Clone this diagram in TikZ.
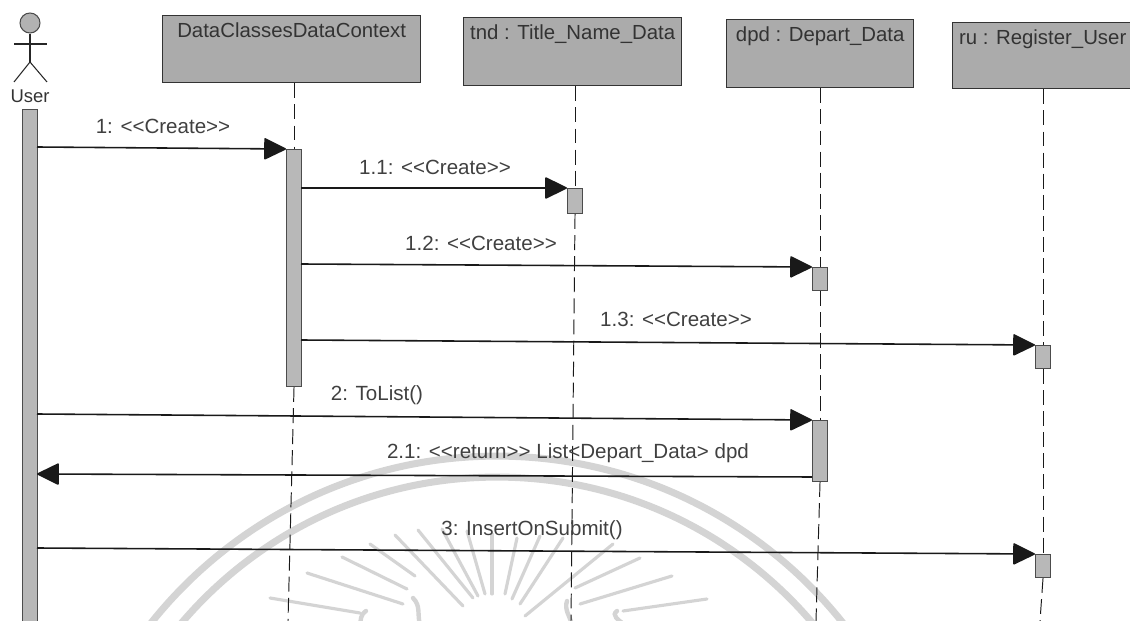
\documentclass[tikz,border=0pt]{standalone}
\usepackage{fontspec}
\setmainfont{Liberation Sans}
\usetikzlibrary{arrows.meta, positioning}

\begin{document}
\begin{tikzpicture}[x=0.02cm,y=-0.02cm,node distance=0.1cm,>={Triangle[round,length=13pt,width=12.5pt]}]
        \tikzstyle{lifehead}=[rectangle,draw=black!80,fill=black!33,line width=0.8pt,anchor=north west,inner sep=0pt]
        \tikzstyle{bar}=[rectangle,draw=black!70,fill=black!28,line width=0.6pt,anchor=north west,inner sep=0pt,minimum width=0.3cm]
        \tikzstyle{headtext}=[font=\fontsize{11.6}{13}\selectfont,text=black!80,inner sep=0pt]
        \tikzstyle{msgtext}=[font=\fontsize{11.7}{13}\selectfont,text=black!75,inner sep=0pt]
        \tikzstyle{msg}=[->,line width=0.9pt,black!90]
        \tikzstyle{lifeline}=[line width=0.55pt,black!90,dash pattern=on 8.5pt off 3.5pt]
        \tikzstyle{seal}=[black!17,line cap=round]
        \useasboundingbox (0,0) rectangle (1130,621);
        % watermark
        \begin{scope}
            \clip (0,0) rectangle (1130,621);
            \draw[seal,line width=4pt] (497,898) circle[radius=8.84cm];
            \draw[seal,line width=4pt] (497,891) circle[radius=8.28cm];
            \foreach \ax/\ay/\bx/\by in {270/598/360/613,307/573/403/604,342/557/407/589,370/544/415/576,395/535/463/606,418/530/473/598,442/529/478/596,467/531/485/594,492/534/492/594,517/538/505/594,540/536/512/599,563/538/520/604,613/544/525/616,640/558/575/588,672/576/580/604,707/599/623/611}
                \draw[seal,line width=1.8pt] (\ax,\ay)--(\bx,\by);
            \draw[seal,line width=2.5pt] (413,598) .. controls (421,606) and (417,614) .. (420,625);
            \draw[seal,line width=2.5pt] (366,611) .. controls (360,615) and (361,620) .. (360,625);
            \draw[seal,line width=2.5pt] (567,601) .. controls (564,610) and (570,616) .. (572,625);
            \draw[seal,line width=2.5pt] (617,611) .. controls (611,615) and (618,620) .. (625,625);
        \end{scope}
        % actor
        \node[circle,draw=black!70,fill=black!30,line width=0.6pt,minimum size=0.4cm,inner sep=0pt] (actorhead) at (30,23) {};
        \coordinate (hip) at (30,62);
        \coordinate (armL) at (14,44);
        \coordinate (armR) at (47,44);
        \coordinate (legL) at (14,82);
        \coordinate (legR) at (47,82);
        \draw[line width=0.6pt,black!85] (actorhead)--(hip);
        \draw[line width=0.6pt,black!85] (armL)--(armR);
        \draw[line width=0.6pt,black!85] (legL)--(hip)--(legR);
        \node[headtext,font=\fontsize{10.5}{12}\selectfont] (usertext) at (30,96) {User};
        % heads
        \node[lifehead,minimum width=5.16cm,minimum height=1.34cm] (datahead) at (162,15) {};
        \node[lifehead,minimum width=4.36cm,minimum height=1.36cm] (tndhead) at (463,17) {};
        \node[lifehead,minimum width=3.74cm,minimum height=1.36cm] (dpdhead) at (726,19) {};
        \node[lifehead,minimum width=3.6cm,minimum height=1.32cm] (ruhead) at (952,22) {};
        \node[headtext,below=0.14cm of datahead.north] (datatext) {DataClassesDataContext};
        \node[headtext,below=0.14cm of tndhead.north] (tndtext) {tnd : Title\_Name\_Data};
        \node[headtext,below=0.14cm of dpdhead.north] (dpdtext) {dpd : Depart\_Data};
        \node[headtext,below=0.14cm of ruhead.north] (rutext) {ru : Register\_User};
        % bars
        \node[bar,minimum height=10.24cm] (userbar) at (22,109) {};
        \node[bar,minimum height=4.74cm] (databar) at (286,149) {};
        \node[bar,minimum height=0.5cm] (tndbar) at (567,188) {};
        \node[bar,minimum height=0.46cm] (dpdbarA) at (812,267) {};
        \node[bar,minimum height=1.22cm] (dpdbarB) at (812,420) {};
        \node[bar,minimum height=0.46cm] (rubarA) at (1035,345) {};
        \node[bar,minimum height=0.46cm] (rubarB) at (1035,554) {};
        % lifelines
        \coordinate (dataend) at (288,621);
        \coordinate (tndend) at (571,621);
        \coordinate (dpdend) at (816,621);
        \coordinate (ruend) at (1040,621);
        \draw[lifeline] (datahead.south -| databar.north)--(databar.north);
        \draw[lifeline] (databar.south)--(dataend);
        \draw[lifeline] (tndhead.south -| tndbar.north)--(tndbar.north);
        \draw[lifeline] (tndbar.south)--(tndend);
        \draw[lifeline] (dpdhead.south -| dpdbarA.north)--(dpdbarA.north);
        \draw[lifeline] (dpdbarA.south)--(dpdbarB.north);
        \draw[lifeline] (dpdbarB.south)--(dpdend);
        \draw[lifeline] (ruhead.south -| rubarA.north)--(rubarA.north);
        \draw[lifeline] (rubarA.south)--(rubarB.north);
        \draw[lifeline] (rubarB.south)--(ruend);
        % messages
        \coordinate (m1) at (37,147);
        \coordinate (m11) at (301,188);
        \coordinate (m12) at (301,264);
        \coordinate (m13) at (301,340);
        \coordinate (m2) at (37,414);
        \coordinate (m21) at (37,474);
        \coordinate (m3) at (37,548);
        \coordinate (m21s) at (812,477);
        \draw[msg] (m1)--(databar.north west);
        \draw[msg] (m11)--(tndbar.north west);
        \draw[msg] (m12)--(dpdbarA.north west);
        \draw[msg] (m13)--(rubarA.north west);
        \draw[msg] (m2)--(dpdbarB.north west);
        \draw[msg] (m21s)--(m21);
        \draw[msg] (m3)--(rubarB.north west);
        \node[msgtext] (t1) at (163,126) {1: <{}<Create>{}>};
        \node[msgtext] (t11) at (435,167) {1.1: <{}<Create>{}>};
        \node[msgtext] (t12) at (481,243) {1.2: <{}<Create>{}>};
        \node[msgtext] (t13) at (676,319) {1.3: <{}<Create>{}>};
        \node[msgtext] (t2) at (377,395) {2: ToList()};
        \node[msgtext] (t21) at (568,453) {2.1: <{}<return>{}> List<Depart\_Data> dpd};
        \node[msgtext] (t3) at (532,530) {3: InsertOnSubmit()};
    \end{tikzpicture}
\end{document}
